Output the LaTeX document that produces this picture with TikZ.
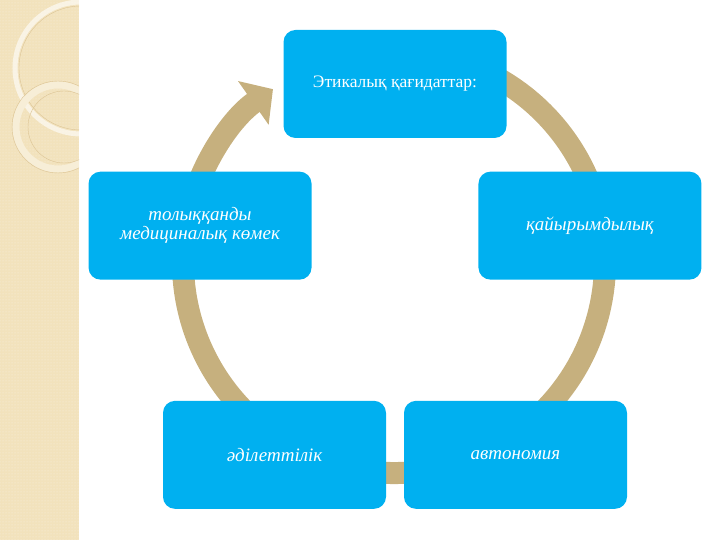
\documentclass[tikz,border=0pt]{standalone}
\usepackage{fontspec}
\setmainfont{Liberation Serif}
\usetikzlibrary{arrows.meta,patterns}
\definecolor{boxblue}{HTML}{00B0F0}
\definecolor{ringtan}{HTML}{C6B07E}
\definecolor{stripbeige}{HTML}{F2E2BC}
\definecolor{stripline}{HTML}{DCC495}
\tikzset{
  stepnode/.style={fill=boxblue, rounded corners=12pt, minimum width=223pt,
    minimum height=108pt, inner sep=0pt, text=white, align=center,
    font=\fontsize{17.5}{19}\selectfont},
  italicnode/.style={stepnode, font=\fontsize{19}{19}\selectfont\itshape},
}
\begin{document}
\begin{tikzpicture}[x=1pt,y=1pt]
  \useasboundingbox (0,0) rectangle (720,540);
  % side strip
  \fill [stripbeige] (0,0) rectangle (79,540);
  \fill [pattern=dots, pattern color=white!55!stripbeige] (0,0) rectangle (79,540);
  \begin{scope}
    \clip (0,0) rectangle (79,540);
    \draw [line width=5pt, white, opacity=.6] (81,472) circle [radius=66];
    \draw [stripline, thin] (81,472) circle [radius=62];
    \draw [line width=7pt, white!40!stripbeige] (58,413) circle [radius=42];
    \draw [stripline, thin] (58,413) circle [radius=46];
    \draw [stripline, thin] (64,413) circle [radius=36];
  \end{scope}
  % ring
  \coordinate (c) at (394,278);
  \draw [ringtan, line width=22pt, -{Triangle[length=24pt,width=52pt]}]
    ([shift={(75:211)}]c) arc [start angle=75, end angle=-235, radius=211];
  % boxes
  \coordinate (o) at (395,251);
  \foreach \a/\s/\t [count=\i] in {90/stepnode/{Этикалық қағидаттар:},
      18/italicnode/{қайырымдылық}, -54/italicnode/{автономия},
      -126/italicnode/{әділеттілік}, 162/italicnode/{толыққанды\\медициналық көмек}}
    \node [\s] (p-\i) at ([shift={(\a:205)}]o) {\t};
\end{tikzpicture}
\end{document}
